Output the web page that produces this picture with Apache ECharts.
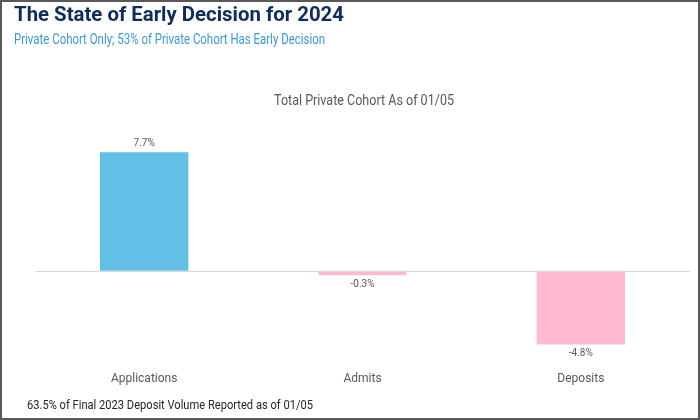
<!DOCTYPE html>
<html>
<head>
<meta charset="utf-8">
<script src="https://cdn.jsdelivr.net/npm/echarts@6/dist/echarts.min.js"></script>
<style>
  html, body { margin: 0; padding: 0; background: #fff; }
  #chart { width: 700px; height: 420px; box-sizing: border-box; border: 2px solid #595959; }
</style>
</head>
<body>
<div id="chart"></div>
<script>
// Year-over-year change, private cohort, as of 01/05
const categories = ['Applications', 'Admits', 'Deposits'];
const changeValues = [7.7, -0.3, -4.8];

const FONT = 'Roboto, sans-serif';

// the source uses a condensed face; squeeze Roboto horizontally to the same width
const measureCtx = document.createElement('canvas').getContext('2d');
function squeezedText(text, opts) {
  measureCtx.font = (opts.fontWeight || 'normal') + ' ' + opts.fontSize + 'px Roboto';
  const w = measureCtx.measureText(text).width;
  return {
    type: 'text',
    x: opts.x,
    y: opts.y,
    scaleX: opts.width / w,
    style: {
      text: text,
      fontFamily: FONT,
      fontSize: opts.fontSize,
      fontWeight: opts.fontWeight || 'normal',
      fill: opts.color,
      align: opts.align || 'left',
      verticalAlign: 'middle'
    }
  };
}

const chart = echarts.init(document.getElementById('chart'), null, { renderer: 'canvas' });

chart.setOption({
  animation: false,
  graphic: [
    squeezedText('The State of Early Decision for 2024',
      { x: 12, y: 14, width: 330, fontSize: 20, fontWeight: 'bold', color: '#0e2d5c' }),
    squeezedText('Private Cohort Only; 53% of Private Cohort Has Early Decision',
      { x: 12, y: 38, width: 311, fontSize: 14, color: '#3a9ad4' }),
    squeezedText('Total Private Cohort As of 01/05',
      { x: 362, y: 99, width: 180, fontSize: 14, color: '#595959', align: 'center' }),
    squeezedText('63.5% of Final 2023 Deposit Volume Reported as of 01/05',
      { x: 25, y: 404, width: 286, fontSize: 13, color: '#262626' })
  ],
  grid: { left: 33, right: 8, top: 115, bottom: 55 },
  xAxis: {
    type: 'category',
    data: categories,
    axisLine: { show: false },
    axisTick: { show: false },
    axisLabel: { color: '#595959', fontFamily: FONT, fontSize: 12, margin: 10 }
  },
  yAxis: {
    type: 'value',
    min: -6,
    max: 10,
    axisLabel: { show: false },
    axisLine: { show: false },
    axisTick: { show: false },
    splitLine: { show: false }
  },
  series: [{
    type: 'bar',
    data: changeValues.map(v => ({
      value: v,
      itemStyle: { color: v >= 0 ? '#62c0e6' : '#ffb9d0' },
      label: { position: v >= 0 ? 'top' : 'bottom' }
    })),
    barWidth: '40.5%',
    label: {
      show: true,
      formatter: p => p.value.toFixed(1) + '%',
      fontFamily: FONT,
      fontSize: 10,
      color: '#595959',
      distance: 4
    },
    markLine: {
      silent: true,
      symbol: 'none',
      label: { show: false },
      lineStyle: { color: '#d9d9d9', type: 'solid', width: 1 },
      data: [{ yAxis: 0 }]
    }
  }]
});
</script>
</body>
</html>
